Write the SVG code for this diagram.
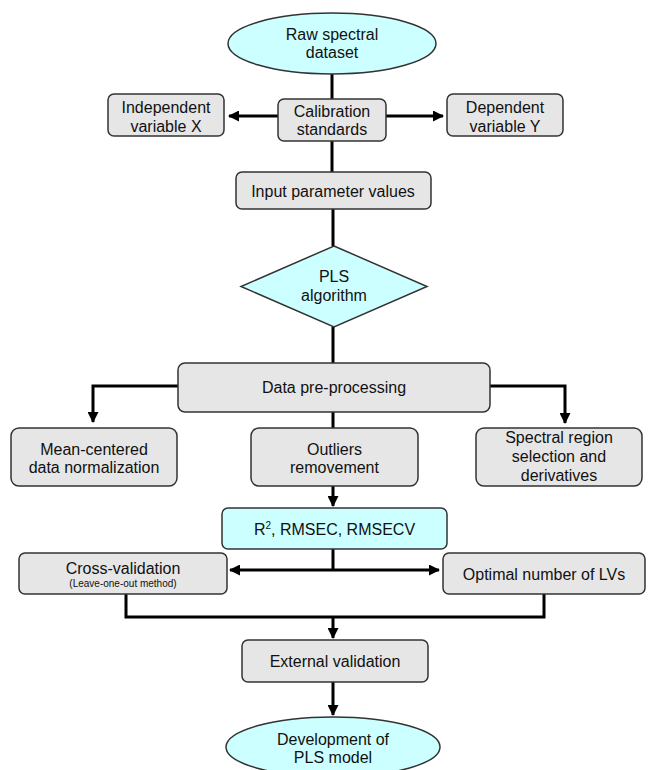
<svg xmlns="http://www.w3.org/2000/svg" width="648" height="770" viewBox="0 0 648 770">
<style>
.box{fill:#e6e6e6;stroke:#333;stroke-width:1.5}
.cyan{fill:#ccffff;stroke:#333;stroke-width:1.5}
.t{font-family:"Liberation Sans",Arial,sans-serif;font-size:16px;fill:#111;text-anchor:middle}
.s{font-size:10px}
.c{fill:none;stroke:#000;stroke-width:3}
</style>
<defs>
<marker id="ah" markerUnits="userSpaceOnUse" markerWidth="11" markerHeight="11" refX="10" refY="5.5" orient="auto">
<path d="M0,0 L11,5.5 L0,11 z" fill="#000"/>
</marker>
</defs>
<rect width="648" height="770" fill="#fff"/>
<g id="connectors">
<line class="c" x1="332" y1="74" x2="332" y2="99"/>
<line class="c" x1="278" y1="116" x2="229" y2="116" marker-end="url(#ah)"/>
<line class="c" x1="386" y1="116" x2="443" y2="116" marker-end="url(#ah)"/>
<line class="c" x1="332" y1="141" x2="332" y2="172"/>
<line class="c" x1="333" y1="209" x2="333" y2="246"/>
<line class="c" x1="333" y1="327" x2="333" y2="363"/>
<polyline class="c" points="178,386 93,386 93,422" marker-end="url(#ah)"/>
<polyline class="c" points="490,386 565,386 565,423" marker-end="url(#ah)"/>
<line class="c" x1="333" y1="412" x2="333" y2="428"/>
<line class="c" x1="333" y1="486" x2="333" y2="506" marker-end="url(#ah)"/>
<line class="c" x1="333" y1="549" x2="333" y2="570"/>
<line class="c" x1="333" y1="570" x2="230" y2="570" marker-end="url(#ah)"/>
<line class="c" x1="333" y1="570" x2="439" y2="570" marker-end="url(#ah)"/>
<polyline class="c" points="126,594 126,617 544,617 544,594"/>
<line class="c" x1="333" y1="617" x2="333" y2="638" marker-end="url(#ah)"/>
<line class="c" x1="333" y1="682" x2="333" y2="715" marker-end="url(#ah)"/>
</g>
<g id="raw">
<ellipse class="cyan" cx="332" cy="43.5" rx="104" ry="30.5"/>
<text class="t" x="332" y="40">Raw spectral</text>
<text class="t" x="332" y="58">dataset</text>
</g>
<g id="indep">
<rect class="box" x="108" y="94" width="116" height="42" rx="6"/>
<text class="t" x="166" y="113">Independent</text>
<text class="t" x="166" y="132">variable X</text>
</g>
<g id="calib">
<rect class="box" x="278" y="99" width="108" height="42" rx="6"/>
<text class="t" x="332" y="117">Calibration</text>
<text class="t" x="332" y="135">standards</text>
</g>
<g id="dep">
<rect class="box" x="447" y="94" width="116" height="42" rx="6"/>
<text class="t" x="505" y="113">Dependent</text>
<text class="t" x="505" y="132">variable Y</text>
</g>
<g id="input">
<rect class="box" x="236" y="172" width="195" height="37" rx="6"/>
<text class="t" x="333" y="196.5">Input parameter values</text>
</g>
<g id="pls">
<polygon class="cyan" points="334,246 427,286.5 334,327 241,286.5"/>
<text class="t" x="334" y="282">PLS</text>
<text class="t" x="334" y="301">algorithm</text>
</g>
<g id="preproc">
<rect class="box" x="178" y="363" width="312" height="49" rx="7"/>
<text class="t" x="334" y="393">Data pre-processing</text>
</g>
<g id="mean">
<rect class="box" x="11" y="428" width="166" height="58" rx="8"/>
<text class="t" x="94" y="455">Mean-centered</text>
<text class="t" x="94" y="473">data normalization</text>
</g>
<g id="outliers">
<rect class="box" x="251" y="428" width="167" height="58" rx="8"/>
<text class="t" x="334.5" y="455">Outliers</text>
<text class="t" x="334.5" y="473">removement</text>
</g>
<g id="spectral">
<rect class="box" x="476" y="428" width="166" height="58" rx="8"/>
<text class="t" x="559" y="443">Spectral region</text>
<text class="t" x="559" y="462">selection and</text>
<text class="t" x="559" y="481">derivatives</text>
</g>
<g id="metrics">
<rect class="cyan" x="222" y="508" width="225" height="41" rx="6"/>
<text class="t" x="334.5" y="535">R<tspan font-size="10" dy="-6">2</tspan><tspan dy="6">, RMSEC, RMSECV</tspan></text>
</g>
<g id="crossval">
<rect class="box" x="19" y="553" width="208" height="41" rx="6"/>
<text class="t" x="123" y="574">Cross-validation</text>
<text class="t s" x="123" y="587">(Leave-one-out method)</text>
</g>
<g id="optimal">
<rect class="box" x="443" y="553" width="202" height="41" rx="6"/>
<text class="t" x="544" y="580">Optimal number of LVs</text>
</g>
<g id="external">
<rect class="box" x="242" y="640" width="186" height="42" rx="6"/>
<text class="t" x="335" y="667">External validation</text>
</g>
<g id="development">
<ellipse class="cyan" cx="333" cy="747" rx="107" ry="30"/>
<text class="t" x="333" y="745">Development of</text>
<text class="t" x="333" y="763">PLS model</text>
</g>
</svg>
